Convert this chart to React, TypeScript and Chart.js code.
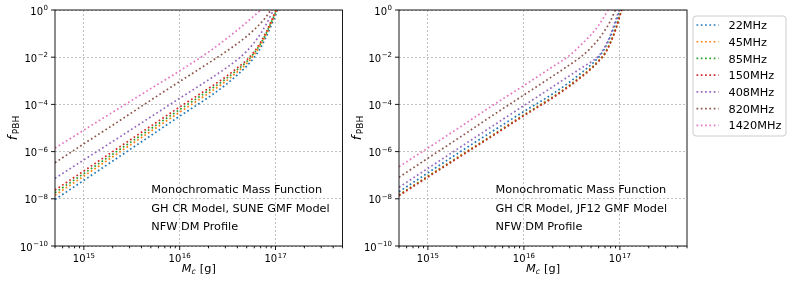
import React, { useEffect, useRef } from 'react';
import { Chart, registerables } from 'chart.js';

Chart.register(...registerables);

// Black-hole mass M_c [g] sample positions
const MASS_G = [5e14, 1e15, 2e15, 5e15, 1e16, 2e16, 3e16, 4e16, 5e16, 6e16, 7e16, 8e16, 9e16, 1e17, 1.1e17];

const FREQ_LABELS = ['22MHz', '45MHz', '85MHz', '150MHz', '408MHz', '820MHz', '1420MHz'];
const COLORS = ['#1f77b4', '#ff7f0e', '#2ca02c', '#d62728', '#9467bd', '#8c564b', '#e377c2'];

// log10(f_PBH) (GH CR, SUNE GMF)
const SUNE_22 = [-8.03, -7.22, -6.4, -5.32, -4.5, -3.7, -3.18, -2.75, -2.38, -2.0, -1.6, -1.13, -0.67, -0.22, 0.2];
const SUNE_45 = [-7.85, -7.04, -6.22, -5.14, -4.33, -3.53, -3.03, -2.62, -2.27, -1.89, -1.48, -1.03, -0.58, -0.14, 0.26];
const SUNE_85 = [-7.74, -6.93, -6.11, -5.03, -4.22, -3.42, -2.93, -2.53, -2.19, -1.82, -1.42, -0.98, -0.53, -0.1, 0.3];
const SUNE_150 = [-7.63, -6.82, -6.0, -4.92, -4.11, -3.32, -2.84, -2.45, -2.12, -1.76, -1.36, -0.93, -0.48, -0.05, 0.35];
const SUNE_408 = [-7.13, -6.35, -5.57, -4.53, -3.74, -2.96, -2.48, -2.1, -1.75, -1.38, -1.0, -0.6, -0.2, 0.15];
const SUNE_820 = [-6.47, -5.67, -4.88, -3.82, -3.03, -2.25, -1.78, -1.42, -1.12, -0.83, -0.56, -0.28, 0.02];
const SUNE_1420 = [-5.85, -5.09, -4.33, -3.33, -2.58, -1.78, -1.25, -0.85, -0.52, -0.24, 0.0, 0.22];

// log10(f_PBH) (GH CR, JF12 GMF)
const JF12_22 = [-7.7, -6.9, -6.1, -5.07, -4.3, -3.55, -3.05, -2.65, -2.32, -2.0, -1.6, -1.1, -0.55, 0.0, 0.4];
const JF12_45 = [-7.83, -7.04, -6.26, -5.23, -4.44, -3.68, -3.18, -2.79, -2.46, -2.14, -1.81, -1.34, -0.81, -0.22, 0.32];
const JF12_85 = [-7.85, -7.06, -6.28, -5.25, -4.46, -3.7, -3.2, -2.81, -2.48, -2.16, -1.83, -1.36, -0.83, -0.23, 0.31];
const JF12_150 = [-7.87, -7.08, -6.3, -5.27, -4.48, -3.72, -3.22, -2.83, -2.5, -2.18, -1.85, -1.38, -0.85, -0.25, 0.3];
const JF12_408 = [-7.51, -6.71, -5.91, -4.85, -4.05, -3.25, -2.78, -2.45, -2.2, -1.95, -1.55, -1.05, -0.45, 0.1];
const JF12_820 = [-7.09, -6.28, -5.48, -4.4, -3.6, -2.8, -2.32, -1.96, -1.6, -1.23, -0.85, -0.45, 0.03];
const JF12_1420 = [-6.64, -5.85, -5.05, -3.98, -3.2, -2.4, -1.92, -1.45, -1.05, -0.65, -0.22, 0.2];

const SUNE_SERIES = [SUNE_22, SUNE_45, SUNE_85, SUNE_150, SUNE_408, SUNE_820, SUNE_1420];
const JF12_SERIES = [JF12_22, JF12_45, JF12_85, JF12_150, JF12_408, JF12_820, JF12_1420];

const X_MIN = 5e14;
const X_MAX = 5e17;
const Y_MIN = 1e-10;
const Y_MAX = 1;
const X_TICKS = [1e15, 1e16, 1e17];
const X_TICK_EXP = ['15', '16', '17'];
const X_MINOR = [
  5e14, 6e14, 7e14, 8e14, 9e14,
  2e15, 3e15, 4e15, 5e15, 6e15, 7e15, 8e15, 9e15,
  2e16, 3e16, 4e16, 5e16, 6e16, 7e16, 8e16, 9e16,
  2e17, 3e17, 4e17, 5e17,
];
const Y_TICKS = [1e-10, 1e-8, 1e-6, 1e-4, 1e-2, 1];
const Y_TICK_EXP = ['\u221210', '\u22128', '\u22126', '\u22124', '\u22122', '0'];

const LEFT_TEXT = ['Monochromatic Mass Function', 'GH CR Model, SUNE GMF Model', 'NFW DM Profile'];
const RIGHT_TEXT = ['Monochromatic Mass Function', 'GH CR Model, JF12 GMF Model', 'NFW DM Profile'];

const FONT = '"DejaVu Sans", "Liberation Sans", sans-serif';
const DASH = [1.7, 2.6];

function drawPow(ctx: CanvasRenderingContext2D, exp: string, x: number, y: number, align: 'center' | 'right') {
  const baseFont = `10px ${FONT}`;
  const supFont = `7px ${FONT}`;
  ctx.font = baseFont;
  const wb = ctx.measureText('10').width;
  ctx.font = supFont;
  const we = ctx.measureText(exp).width;
  const total = wb + 0.5 + we;
  const x0 = align === 'center' ? x - total / 2 : x - total;
  ctx.textAlign = 'left';
  ctx.textBaseline = 'alphabetic';
  ctx.font = baseFont;
  ctx.fillText('10', x0, y);
  ctx.font = supFont;
  ctx.fillText(exp, x0 + wb + 0.5, y - 4.3);
}

function makeDecor(texts: string[], withLegend: boolean) {
  return {
    id: 'decor',
    afterDraw(chart: any) {
      const ctx: CanvasRenderingContext2D = chart.ctx;
      const a = chart.chartArea;
      const xs = chart.scales.x;
      const ys = chart.scales.y;
      ctx.save();
      ctx.setLineDash([]);
      ctx.strokeStyle = '#000';
      ctx.lineWidth = 0.9;
      ctx.strokeRect(a.left, a.top, a.right - a.left, a.bottom - a.top);

      ctx.beginPath();
      X_TICKS.forEach((v) => {
        const p = xs.getPixelForValue(v);
        ctx.moveTo(p, a.bottom);
        ctx.lineTo(p, a.bottom + 4);
      });
      X_MINOR.forEach((v) => {
        const p = xs.getPixelForValue(v);
        ctx.moveTo(p, a.bottom);
        ctx.lineTo(p, a.bottom + 2.3);
      });
      Y_TICKS.forEach((v) => {
        const p = ys.getPixelForValue(v);
        ctx.moveTo(a.left, p);
        ctx.lineTo(a.left - 4, p);
      });
      ctx.stroke();

      ctx.fillStyle = '#000';
      X_TICKS.forEach((v, i) => {
        drawPow(ctx, X_TICK_EXP[i], xs.getPixelForValue(v), a.bottom + 16, 'center');
      });
      Y_TICKS.forEach((v, i) => {
        drawPow(ctx, Y_TICK_EXP[i], a.left - 7, ys.getPixelForValue(v) + 4.5, 'right');
      });

      // x-axis title: M_c [g]
      const cx = (a.left + a.right) / 2;
      const big = `11.3px ${FONT}`;
      const bigIt = `italic 11.3px ${FONT}`;
      const smallIt = `italic 7.9px ${FONT}`;
      ctx.font = bigIt;
      const wM = ctx.measureText('M').width;
      ctx.font = smallIt;
      const wc = ctx.measureText('c').width;
      ctx.font = big;
      const wg = ctx.measureText(' [g]').width;
      const x0 = cx - (wM + wc + wg + 0.5) / 2;
      const by = a.bottom + 26;
      ctx.textAlign = 'left';
      ctx.textBaseline = 'alphabetic';
      ctx.font = bigIt;
      ctx.fillText('M', x0, by);
      ctx.font = smallIt;
      ctx.fillText('c', x0 + wM, by + 2.3);
      ctx.font = big;
      ctx.fillText(' [g]', x0 + wM + wc + 0.5, by);

      // y-axis title: f_PBH
      const fIt = `italic 13px ${FONT}`;
      const sub = `9px ${FONT}`;
      ctx.save();
      ctx.translate(a.left - 38.5, (a.top + a.bottom) / 2);
      ctx.rotate(-Math.PI / 2);
      ctx.font = fIt;
      const wf = ctx.measureText('f').width;
      ctx.font = sub;
      const wp = ctx.measureText('PBH').width;
      const s0 = -(wf + wp + 1.5) / 2;
      ctx.font = fIt;
      ctx.fillText('f', s0, 0);
      ctx.font = sub;
      ctx.fillText('PBH', s0 + wf + 1.5, 2.8);
      ctx.restore();

      // annotation text
      const tx = a.left + 0.335 * (a.right - a.left);
      ctx.font = big;
      ctx.textAlign = 'left';
      texts.forEach((t, i) => {
        ctx.fillText(t, tx, 193.3 + i * 18.35);
      });

      if (withLegend) {
        const lx = a.right + 6;
        const ly = 16;
        const lw = 93;
        const lh = 120;
        ctx.beginPath();
        ctx.roundRect(lx, ly, lw, lh, 3);
        ctx.fillStyle = 'rgba(255,255,255,0.8)';
        ctx.fill();
        ctx.strokeStyle = '#cccccc';
        ctx.lineWidth = 1;
        ctx.stroke();
        chart.data.datasets.forEach((ds: any, i: number) => {
          const yc = 25 + i * 16.73;
          ctx.beginPath();
          ctx.setLineDash(DASH);
          ctx.strokeStyle = ds.borderColor;
          ctx.lineWidth = 1.7;
          ctx.moveTo(lx + 3.5, yc);
          ctx.lineTo(lx + 25.5, yc);
          ctx.stroke();
          ctx.setLineDash([]);
          ctx.fillStyle = '#000';
          ctx.font = big;
          ctx.textAlign = 'left';
          ctx.fillText(ds.label, lx + 35.5, yc + 4.1);
        });
      }
      ctx.restore();
    },
  };
}

function buildConfig(series: number[][], texts: string[], withLegend: boolean, axisWidth: number, padRight: number): any {
  return {
    type: 'line',
    data: {
      datasets: series.map((ys, i) => ({
        label: FREQ_LABELS[i],
        data: ys.map((v, j) => ({ x: MASS_G[j], y: Math.pow(10, v) })),
        borderColor: COLORS[i],
        backgroundColor: COLORS[i],
        borderWidth: 1.7,
        borderDash: DASH,
        borderCapStyle: 'butt',
        pointRadius: 0,
        fill: false,
        cubicInterpolationMode: 'monotone',
        order: series.length - 1 - i,
        clip: 0,
      })),
    },
    options: {
      animation: false,
      responsive: false,
      maintainAspectRatio: false,
      events: [],
      layout: { padding: { left: 0, top: 10, right: padRight, bottom: 0 } },
      plugins: { legend: { display: false }, tooltip: { enabled: false }, title: { display: false } },
      scales: {
        x: {
          type: 'logarithmic',
          min: X_MIN,
          max: X_MAX,
          afterBuildTicks: (s: any) => {
            s.ticks = X_TICKS.map((v) => ({ value: v }));
          },
          afterFit: (s: any) => {
            s.height = 40;
          },
          ticks: { display: false },
          grid: { color: '#b0b0b0', lineWidth: 0.8, drawTicks: false },
          border: { display: false, dash: [2, 2] },
        },
        y: {
          type: 'logarithmic',
          min: Y_MIN,
          max: Y_MAX,
          afterBuildTicks: (s: any) => {
            s.ticks = Y_TICKS.map((v) => ({ value: v }));
          },
          afterFit: (s: any) => {
            s.width = axisWidth;
          },
          ticks: { display: false },
          grid: { color: '#b0b0b0', lineWidth: 0.8, drawTicks: false },
          border: { display: false, dash: [2, 2] },
        },
      },
    },
    plugins: [makeDecor(texts, withLegend)],
  };
}

export default function App() {
  const leftRef = useRef<HTMLCanvasElement>(null);
  const rightRef = useRef<HTMLCanvasElement>(null);

  useEffect(() => {
    const c1 = new Chart(leftRef.current as HTMLCanvasElement, buildConfig(SUNE_SERIES, LEFT_TEXT, false, 55, 2.5));
    const c2 = new Chart(rightRef.current as HTMLCanvasElement, buildConfig(JF12_SERIES, RIGHT_TEXT, true, 54, 106));
    return () => {
      c1.destroy();
      c2.destroy();
    };
  }, []);

  return (
    <div style={{ position: 'fixed', left: 0, top: 0, width: 793, height: 286, background: '#fff' }}>
      <canvas ref={leftRef} width={345} height={286} style={{ position: 'absolute', left: 0, top: 0 }} />
      <canvas ref={rightRef} width={448} height={286} style={{ position: 'absolute', left: 345, top: 0 }} />
    </div>
  );
}
